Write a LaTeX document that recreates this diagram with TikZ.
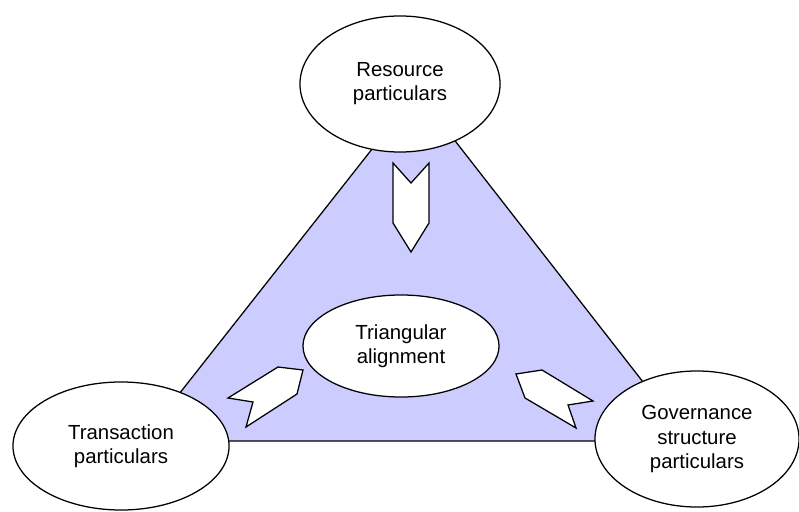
\documentclass[tikz,border=0pt]{standalone}
\usepackage{fontspec}
\setmainfont{Liberation Sans}
\usetikzlibrary{shapes.geometric}
\definecolor{lav}{HTML}{CCCCFF}
\tikzset{
  bubble/.style={ellipse, draw=black, fill=white, line width=0.9pt, inner sep=0pt,
    align=center, font=\fontsize{14.5}{17.2}\selectfont},
  chevron/.style={draw=black, fill=white, line width=0.9pt, line join=miter},
  plate/.style={draw=black, fill=lav, line width=0.9pt}
}
\begin{document}
\begin{tikzpicture}[x=0.025cm, y=-0.025cm]
  \useasboundingbox (0,0) rectangle (799,511);
  % shaded triangle behind the ellipses
  \draw[plate] (417,92) -- (142,441) -- (689,441) -- cycle;
  % the four ellipses
  \node[bubble, minimum width=5cm, minimum height=3.4cm] (res) at (400,84) {Resource\\particulars};
  \node[bubble, minimum width=5.4cm, minimum height=3.2cm] (trans) at (121,446) {Transaction\\particulars};
  \node[bubble, minimum width=5.1cm, minimum height=3.4cm] (gov) at (697,439) {Governance\\structure\\particulars};
  \node[bubble, minimum width=4.9cm, minimum height=2.55cm] (align) at (401,346) {Triangular\\alignment};
  % chevrons pointing towards the centre
  \draw[chevron] (393,163) -- (411,183) -- (429,163) -- (429,223) -- (411,252) -- (393,223) -- cycle;
  \draw[chevron] (278,367) -- (303,370) -- (297,394) -- (246,427) -- (253,402) -- (228,398) -- cycle;
  \draw[chevron] (516,374) -- (542,370) -- (593,401) -- (568,405) -- (576,428) -- (525,398) -- cycle;
\end{tikzpicture}
\end{document}
